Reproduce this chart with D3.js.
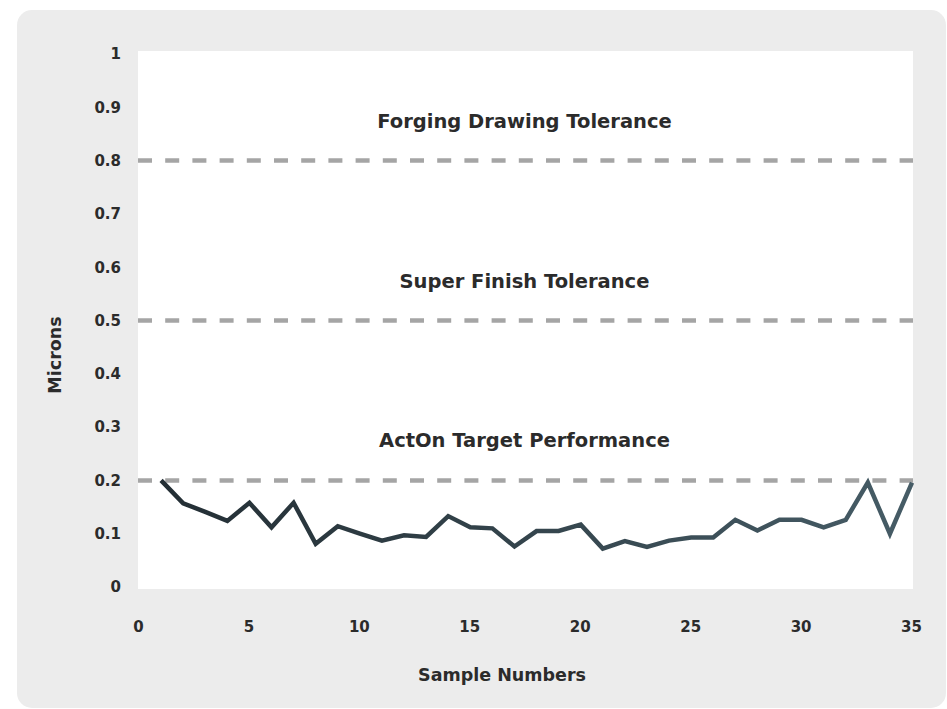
<!DOCTYPE html>
<html>
<head>
<meta charset="utf-8">
<script src="https://cdn.jsdelivr.net/npm/d3@7"></script>
<style>
  body { margin: 0; background: #ffffff; }
  svg { display: block; }
  text { font-family: "DejaVu Sans", "Open Sans", sans-serif; fill: #2b2b2b; }
</style>
</head>
<body>
<div id="chart"></div>
<script>
// sample numbers 1..35 and measured roughness (microns)
let samples = [1, 2, 3, 4, 5, 6, 7, 8, 9, 10, 11, 12, 13, 14, 15, 16, 17, 18, 19, 20,
  21, 22, 23, 24, 25, 26, 27, 28, 29, 30, 31, 32, 33, 34, 35];
let microns = [0.2, 0.157, 0.141, 0.124, 0.158, 0.112, 0.158, 0.081, 0.114, 0.1,
  0.087, 0.097, 0.094, 0.133, 0.112, 0.11, 0.076, 0.105, 0.105, 0.117,
  0.072, 0.086, 0.075, 0.087, 0.093, 0.093, 0.126, 0.106, 0.126, 0.126,
  0.112, 0.126, 0.196, 0.1, 0.196];

// tolerance reference lines
let toleranceNames = ['Forging Drawing Tolerance', 'Super Finish Tolerance', 'ActOn Target Performance'];
let toleranceValues = [0.8, 0.5, 0.2];

let xTicks = [0, 5, 10, 15, 20, 25, 30, 35];
let yTicks = ['0', '0.1', '0.2', '0.3', '0.4', '0.5', '0.6', '0.7', '0.8', '0.9', '1'];

let width = 947, height = 709;
let plot = { left: 138, top: 51, right: 913, bottom: 589 };

let svg = d3.select('#chart')
  .append('svg')
  .attr('width', width)
  .attr('height', height);

// grey card behind everything
svg.append('rect')
  .attr('x', 17).attr('y', 10)
  .attr('width', 929).attr('height', 698)
  .attr('rx', 15)
  .attr('fill', '#ececec');

// white plot area
svg.append('rect')
  .attr('x', plot.left).attr('y', plot.top)
  .attr('width', plot.right - plot.left)
  .attr('height', plot.bottom - plot.top)
  .attr('fill', '#ffffff');

let xScale = d3.scaleLinear().domain([0, 35]).range([139, 912]);
let yScale = d3.scaleLinear().domain([0, 1]).range([587, 54]);

// x axis
let xAxis = svg.append('g')
  .attr('transform', 'translate(-1,' + 621 + ')')
  .call(d3.axisBottom(xScale).tickValues(xTicks).tickSize(0).tickPadding(0));
xAxis.select('.domain').remove();
xAxis.selectAll('text')
  .attr('dy', '0.71em')
  .style('font-family', '"DejaVu Sans", sans-serif')
  .style('font-size', '15px')
  .style('font-weight', '700')
  .style('fill', '#2b2b2b');

// y axis
let yAxis = svg.append('g')
  .attr('transform', 'translate(121,0)')
  .call(d3.axisLeft(yScale).tickValues(yTicks.map(Number)).tickSize(0).tickPadding(0)
    .tickFormat(function(d, i) { return yTicks[i]; }));
yAxis.select('.domain').remove();
yAxis.selectAll('text')
  .style('font-family', '"DejaVu Sans", sans-serif')
  .style('font-size', '15px')
  .style('font-weight', '700')
  .style('fill', '#2b2b2b');

// dashed tolerance lines
svg.selectAll('.tol')
  .data(toleranceValues)
  .enter().append('line')
  .attr('class', 'tol')
  .attr('x1', plot.left).attr('x2', plot.right)
  .attr('y1', function(d) { return yScale(d); })
  .attr('y2', function(d) { return yScale(d); })
  .attr('stroke', '#a5a5a5')
  .attr('stroke-width', 4.5)
  .attr('stroke-dasharray', '14,13.2');

svg.selectAll('.tol-label')
  .data(toleranceNames)
  .enter().append('text')
  .attr('class', 'tol-label')
  .attr('x', (plot.left + plot.right) / 2 - 1)
  .attr('y', function(d, i) { return yScale(toleranceValues[i]) - 33; })
  .attr('text-anchor', 'middle')
  .style('font-size', '19.5px')
  .style('font-weight', '700')
  .text(function(d) { return d; });

// line gradient, dark on the left to slate on the right
let grad = svg.append('defs').append('linearGradient')
  .attr('id', 'lineGrad')
  .attr('gradientUnits', 'userSpaceOnUse')
  .attr('x1', xScale(1)).attr('x2', xScale(35))
  .attr('y1', 0).attr('y2', 0);
grad.append('stop').attr('offset', '0%').attr('stop-color', '#232e34');
grad.append('stop').attr('offset', '100%').attr('stop-color', '#465c66');

let line = d3.line()
  .x(function(d, i) { return xScale(samples[i]); })
  .y(function(d) { return yScale(d); });

svg.append('path')
  .datum(microns)
  .attr('d', line)
  .attr('fill', 'none')
  .attr('stroke', 'url(#lineGrad)')
  .attr('stroke-width', 4.5)
  .attr('stroke-linejoin', 'miter');

// axis titles
svg.append('text')
  .attr('x', 502)
  .attr('y', 681)
  .attr('text-anchor', 'middle')
  .style('font-size', '17.5px')
  .style('font-weight', '700')
  .text('Sample Numbers');

svg.append('text')
  .attr('transform', 'translate(61,355) rotate(-90)')
  .attr('text-anchor', 'middle')
  .style('font-size', '17.5px')
  .style('font-weight', '700')
  .text('Microns');
</script>
</body>
</html>
